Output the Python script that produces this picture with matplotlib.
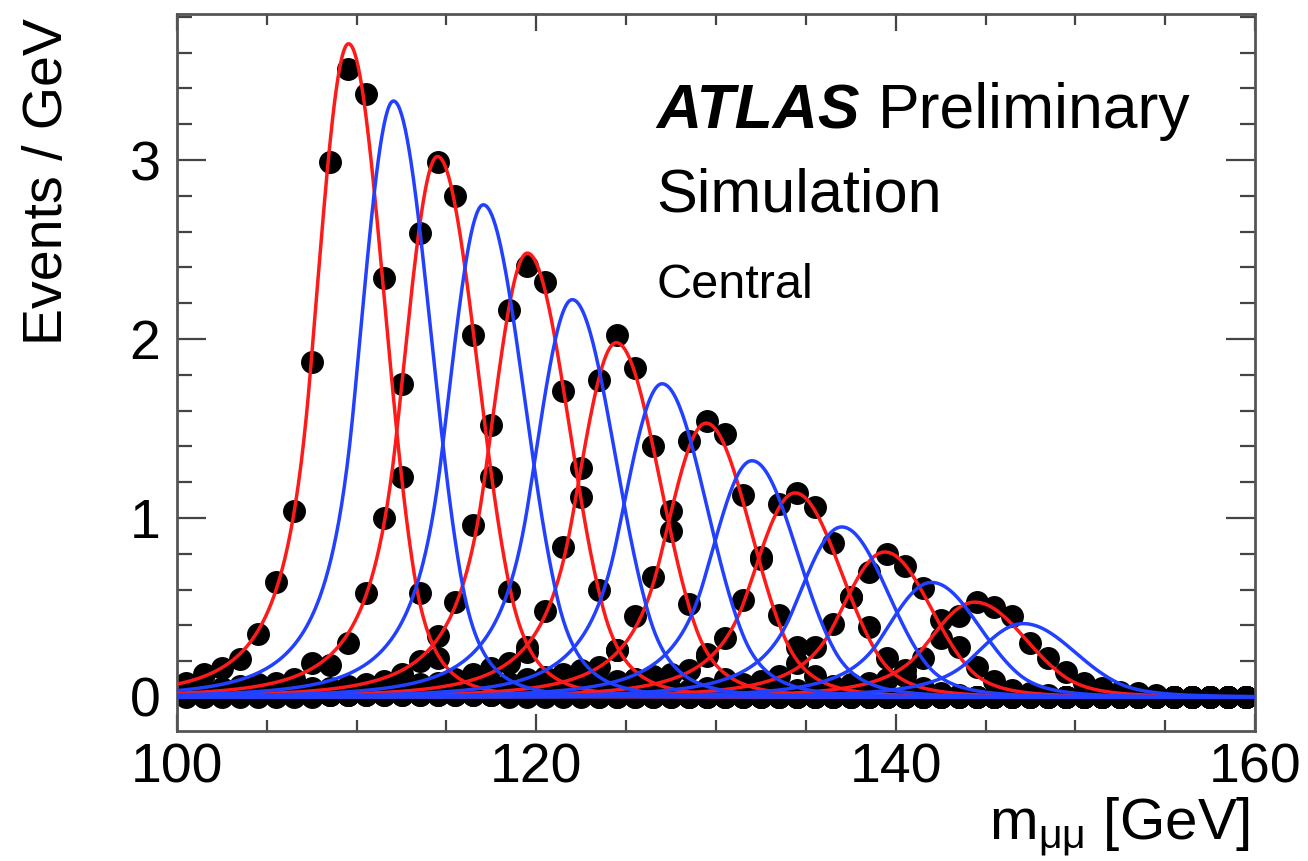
import numpy as np
import matplotlib
matplotlib.use("Agg")
import matplotlib.pyplot as plt
from matplotlib.ticker import MultipleLocator

plt.rcParams['font.family'] = ['Liberation Sans', 'DejaVu Sans']
plt.rcParams['mathtext.fontset'] = 'custom'
plt.rcParams['mathtext.rm'] = 'Liberation Sans'
plt.rcParams['mathtext.it'] = 'Liberation Sans:italic'

# 1 GeV bins from 100 to 160
bin_centres = np.arange(100.5, 160.0, 1.0)

# simulated points (Events / GeV) for the red mass hypotheses
red_110 = [0.08, 0.13, 0.16, 0.21, 0.35, 0.64, 1.04, 1.87, 2.99, 3.51,
           3.37, 2.34, 1.23, 0.58, 0.22, 0.08, 0.03, 0.01, 0.00, 0.00,
           0.00, 0.00, 0.00, 0.00, 0.00, 0.00, 0.00, 0.00, 0.00, 0.00,
           0.00, 0.00, 0.00, 0.00, 0.00, 0.00, 0.00, 0.00, 0.00, 0.00,
           0.00, 0.00, 0.00, 0.00, 0.00, 0.00, 0.00, 0.00, 0.00, 0.00,
           0.00, 0.00, 0.00, 0.00, 0.00, 0.00, 0.00, 0.00, 0.00, 0.00]
red_115 = [0.03, 0.04, 0.05, 0.06, 0.07, 0.08, 0.10, 0.19, 0.18, 0.30,
           0.58, 1.00, 1.75, 2.59, 2.99, 2.80, 2.02, 1.23, 0.59, 0.25,
           0.10, 0.04, 0.02, 0.00, 0.00, 0.00, 0.00, 0.00, 0.00, 0.00,
           0.00, 0.00, 0.00, 0.00, 0.00, 0.00, 0.00, 0.00, 0.00, 0.00,
           0.00, 0.00, 0.00, 0.00, 0.00, 0.00, 0.00, 0.00, 0.00, 0.00,
           0.00, 0.00, 0.00, 0.00, 0.00, 0.00, 0.00, 0.00, 0.00, 0.00]
red_120 = [0.02, 0.02, 0.03, 0.03, 0.03, 0.04, 0.04, 0.05, 0.05, 0.06,
           0.07, 0.09, 0.13, 0.20, 0.34, 0.53, 0.96, 1.52, 2.16, 2.41,
           2.32, 1.71, 1.12, 0.60, 0.26, 0.10, 0.04, 0.01, 0.00, 0.00,
           0.00, 0.00, 0.00, 0.00, 0.00, 0.00, 0.00, 0.00, 0.00, 0.00,
           0.00, 0.00, 0.00, 0.00, 0.00, 0.00, 0.00, 0.00, 0.00, 0.00,
           0.00, 0.00, 0.00, 0.00, 0.00, 0.00, 0.00, 0.00, 0.00, 0.00]
red_125 = [0.02, 0.02, 0.02, 0.02, 0.03, 0.03, 0.03, 0.03, 0.04, 0.04,
           0.05, 0.05, 0.06, 0.07, 0.08, 0.10, 0.13, 0.16, 0.19, 0.28,
           0.48, 0.84, 1.28, 1.77, 2.02, 1.84, 1.40, 0.93, 0.52, 0.24,
           0.10, 0.04, 0.01, 0.00, 0.00, 0.00, 0.00, 0.00, 0.00, 0.00,
           0.00, 0.00, 0.00, 0.00, 0.00, 0.00, 0.00, 0.00, 0.00, 0.00,
           0.00, 0.00, 0.00, 0.00, 0.00, 0.00, 0.00, 0.00, 0.00, 0.00]
red_130 = [0.01, 0.01, 0.02, 0.02, 0.02, 0.02, 0.02, 0.03, 0.03, 0.03,
           0.03, 0.04, 0.04, 0.04, 0.05, 0.05, 0.06, 0.07, 0.08, 0.10,
           0.11, 0.13, 0.15, 0.17, 0.26, 0.45, 0.67, 1.04, 1.43, 1.54,
           1.47, 1.13, 0.78, 0.46, 0.28, 0.12, 0.05, 0.02, 0.00, 0.00,
           0.00, 0.00, 0.00, 0.00, 0.00, 0.00, 0.00, 0.00, 0.00, 0.00,
           0.00, 0.00, 0.00, 0.00, 0.00, 0.00, 0.00, 0.00, 0.00, 0.00]
red_135 = [0.01, 0.01, 0.01, 0.01, 0.01, 0.01, 0.01, 0.01, 0.01, 0.01,
           0.02, 0.02, 0.02, 0.02, 0.03, 0.03, 0.03, 0.03, 0.04, 0.04,
           0.05, 0.06, 0.07, 0.08, 0.09, 0.10, 0.12, 0.13, 0.15, 0.23,
           0.33, 0.54, 0.77, 1.08, 1.14, 1.06, 0.86, 0.56, 0.39, 0.22,
           0.12, 0.05, 0.02, 0.01, 0.00, 0.00, 0.00, 0.00, 0.00, 0.00,
           0.00, 0.00, 0.00, 0.00, 0.00, 0.00, 0.00, 0.00, 0.00, 0.00]
red_140 = [0.01, 0.01, 0.01, 0.01, 0.01, 0.01, 0.01, 0.01, 0.01, 0.01,
           0.01, 0.01, 0.01, 0.01, 0.01, 0.01, 0.01, 0.01, 0.01, 0.01,
           0.02, 0.02, 0.02, 0.02, 0.03, 0.03, 0.03, 0.04, 0.04, 0.05,
           0.06, 0.07, 0.09, 0.12, 0.19, 0.28, 0.41, 0.56, 0.70, 0.80,
           0.73, 0.61, 0.43, 0.28, 0.17, 0.09, 0.04, 0.02, 0.01, 0.00,
           0.00, 0.00, 0.00, 0.00, 0.00, 0.00, 0.00, 0.00, 0.00, 0.00]
red_145 = [0.00, 0.00, 0.00, 0.00, 0.00, 0.00, 0.00, 0.00, 0.01, 0.01,
           0.01, 0.01, 0.01, 0.01, 0.01, 0.01, 0.01, 0.01, 0.01, 0.01,
           0.01, 0.01, 0.01, 0.01, 0.01, 0.01, 0.01, 0.02, 0.02, 0.02,
           0.02, 0.03, 0.03, 0.04, 0.04, 0.05, 0.06, 0.07, 0.08, 0.10,
           0.15, 0.22, 0.33, 0.45, 0.53, 0.50, 0.45, 0.30, 0.22, 0.14,
           0.08, 0.05, 0.03, 0.02, 0.01, 0.00, 0.00, 0.00, 0.00, 0.00]
red_points = [red_110, red_115, red_120, red_125, red_130, red_135, red_140, red_145]

# fitted signal shapes (double-sided Crystal Ball)
red_mode = [109.55, 114.5, 119.5, 124.45, 129.45, 134.4, 139.4, 144.4]
red_peak = [3.65, 3.02, 2.48, 1.98, 1.53, 1.14, 0.81, 0.53]
red_sigma_l = [1.8, 1.9, 2.0, 2.1, 2.2, 2.3, 2.4, 2.5]
red_sigma_r = [2.0, 2.25, 2.35, 2.45, 2.5, 2.6, 2.6, 2.85]

# interpolated shapes for the intermediate masses (blue)
blue_mode = [112.05, 117.05, 122.0, 127.0, 132.0, 137.0, 142.0, 147.1]
blue_peak = [3.33, 2.75, 2.22, 1.75, 1.32, 0.95, 0.64, 0.41]
blue_sigma_l = [1.85, 1.95, 2.05, 2.15, 2.25, 2.35, 2.45, 2.55]
blue_sigma_r = [2.1, 2.3, 2.4, 2.5, 2.55, 2.6, 2.7, 2.9]

tail_alpha_l, tail_n_l = 1.2, 4.0
tail_alpha_r, tail_n_r = 1.8, 6.0


def crystal_ball(x, mode, peak, sig_l, sig_r):
    t = np.where(x < mode, (x - mode) / sig_l, (x - mode) / sig_r)
    y = np.exp(-0.5 * t ** 2)
    a_l = (tail_n_l / tail_alpha_l) ** tail_n_l * np.exp(-0.5 * tail_alpha_l ** 2)
    b_l = tail_n_l / tail_alpha_l - tail_alpha_l
    left = t < -tail_alpha_l
    y[left] = a_l / (b_l - t[left]) ** tail_n_l
    a_r = (tail_n_r / tail_alpha_r) ** tail_n_r * np.exp(-0.5 * tail_alpha_r ** 2)
    b_r = tail_n_r / tail_alpha_r - tail_alpha_r
    right = t > tail_alpha_r
    y[right] = a_r / (b_r + t[right]) ** tail_n_r
    return peak * y


fig = plt.figure(figsize=(13.08, 8.61), dpi=100)
ax = fig.add_axes([0.1353, 0.151, 0.8242, 0.8327])

for pts in red_points:
    ax.plot(bin_centres, pts, 'o', color='black', ms=15.5, mec='black', zorder=2)

x = np.linspace(100, 160, 1200)
for m, p, sl, sr in zip(red_mode, red_peak, red_sigma_l, red_sigma_r):
    ax.plot(x, crystal_ball(x, m, p, sl, sr), color='#ff1a1a', lw=2.5, zorder=3)
for m, p, sl, sr in zip(blue_mode, blue_peak, blue_sigma_l, blue_sigma_r):
    ax.plot(x, crystal_ball(x, m, p, sl, sr), color='#2240ff', lw=2.5, zorder=4)

ax.set_xlim(100, 160)
ax.set_ylim(-0.19, 3.816)
ax.xaxis.set_major_locator(MultipleLocator(20))
ax.xaxis.set_minor_locator(MultipleLocator(5))
ax.yaxis.set_major_locator(MultipleLocator(1))
ax.yaxis.set_minor_locator(MultipleLocator(0.2))

ax.tick_params(which='both', direction='in', top=True, right=True,
               color='#444444', width=1.6, labelsize=40, labelcolor='black')
ax.tick_params(axis='x', which='major', length=12, pad=8)
ax.tick_params(axis='x', which='minor', length=8)
ax.tick_params(axis='y', which='major', length=21, pad=12)
ax.tick_params(axis='y', which='minor', length=11)
for sp in ax.spines.values():
    sp.set_color('#555555')
    sp.set_linewidth(2.0)

fig.text(48 / 1308, 1 - 18 / 861, 'Events / GeV', rotation=90, ha='center',
         va='top', fontsize=40)
fig.text(1250 / 1308, 1 - 840 / 861, r'm$_{\mathrm{\mu\mu}}$ [GeV]', ha='right',
         va='baseline', fontsize=42)

ax.text(0.445, 0.841, 'ATLAS', transform=ax.transAxes, fontsize=45,
        fontweight='bold', fontstyle='italic', va='baseline')
ax.text(0.650, 0.841, 'Preliminary', transform=ax.transAxes, fontsize=45,
        va='baseline')
ax.text(0.445, 0.724, 'Simulation', transform=ax.transAxes, fontsize=44,
        va='baseline')
ax.text(0.445, 0.604, 'Central', transform=ax.transAxes, fontsize=35,
        va='baseline')

fig.savefig('out.png', dpi=100)
